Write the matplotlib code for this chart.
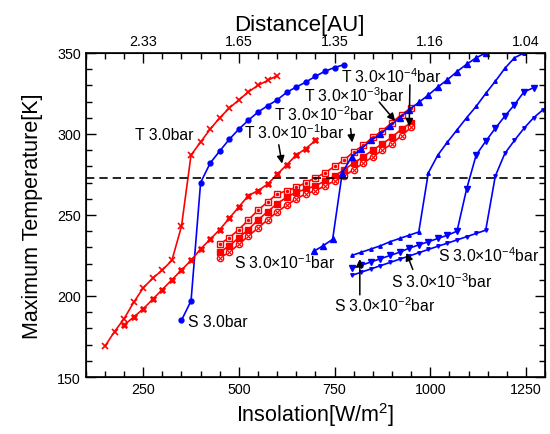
import numpy as np
import matplotlib
matplotlib.use("Agg")
import matplotlib.pyplot as plt
from matplotlib.ticker import MultipleLocator

plt.rcParams['font.family'] = ['Liberation Sans', 'DejaVu Sans']
plt.rcParams['mathtext.default'] = 'regular'

# --- data ---
x_t30 = [150, 175, 200, 225, 250, 275, 300, 325, 350, 375, 400, 425, 450, 475, 500, 525, 550, 575, 600]
y_t30 = [169, 178, 186, 196, 205, 211, 216, 222, 243, 287, 295, 303, 310, 316, 321, 326, 330, 333, 336]

x_s30 = [350, 375, 400, 425, 450, 475, 500, 525, 550, 575, 600, 625, 650, 675, 700, 725, 750, 775]
y_s30 = [185, 197, 270, 282, 289.5, 296.7, 303, 308.5, 313.5, 317.4, 321, 325.7, 329, 332, 335.6, 338.7, 341, 342.8]

x_t1 = [200, 225, 250, 275, 300, 325, 350, 375, 400, 425, 450, 475, 500, 525, 550, 575, 600, 625, 650, 675, 700]
y_t1 = [182, 187, 192, 198, 204, 210, 216, 222, 229, 235, 241, 248, 255, 262, 265, 269, 275, 281, 287, 291, 296]

x_t234 = [450, 475, 500, 525, 550, 575, 600, 625, 650, 675, 700, 725, 750, 775, 800, 825, 850, 875, 900, 925, 950]
y_t2 = [232, 236, 241, 247, 253, 258, 263, 265, 267, 270, 273, 276, 280, 284, 289, 293, 298, 302, 307, 312, 316]
y_t3 = [227, 231, 236, 241, 247, 252, 257, 261, 264, 266, 268, 271, 274, 278, 282, 286, 290, 294, 298, 303, 307]
y_t4 = [223.5, 227, 232, 237, 242, 247, 252, 256, 260, 263, 265, 268, 271, 274, 278, 282, 286, 290, 294, 299, 304]

x_s1 = [695, 720, 745, 770, 795, 820, 845, 870, 895, 920, 945, 970, 995, 1020, 1045, 1070, 1095, 1120, 1145]
y_s1 = [227.5, 231, 235, 276, 286, 291, 296, 300, 305, 310, 315, 319.5, 324, 329, 333.5, 338.5, 343, 347, 350]

x_s2 = [795, 820, 845, 870, 895, 920, 945, 970, 995, 1020, 1045, 1070, 1095, 1120, 1145, 1170, 1195, 1220, 1245]
y_s2 = [225, 227, 229, 231, 233.5, 235.5, 237.5, 239.5, 276, 287, 295, 302.5, 310, 317, 325, 332.5, 340.5, 347, 350]

x_s3 = [795, 820, 845, 870, 895, 920, 945, 970, 995, 1020, 1045, 1070, 1095, 1120, 1145, 1170, 1195, 1220, 1245, 1270]
y_s3 = [217, 219, 221, 223, 225, 227, 229.5, 231.5, 233.5, 235.5, 237.5, 240, 266, 287, 295.5, 303.5, 311, 318, 326, 328.5]

x_s4 = [795, 820, 845, 870, 895, 920, 945, 970, 995, 1020, 1045, 1070, 1095, 1120, 1145, 1170, 1195, 1220, 1245, 1270, 1295, 1320]
y_s4 = [212.7, 214.7, 216.7, 218.7, 220.7, 222.7, 224.7, 226.7, 228.7, 230.7, 232.6, 234.6, 236.6, 238.6, 240.6,
        274, 288, 296, 303.5, 310, 315, 319]

t_freeze = 273
top_ticks = [250, 500, 750, 1000, 1250]
top_labels = ['2.33', '1.65', '1.35', '1.16', '1.04']

RED = '#ff0000'
BLUE = '#0000ff'

fig = plt.figure(figsize=(5.5, 4.35), dpi=100)
ax = fig.add_axes([0.156, 0.131, 0.835, 0.745])

lw = 1.2
ax.plot(x_t30, y_t30, color=RED, lw=lw, marker='x', ms=4.5, mew=1.2)
ax.plot(x_s30, y_s30, color=BLUE, lw=lw, marker='o', ms=3.5)
ax.plot(x_t1, y_t1, color=RED, lw=lw, marker='X', ms=4.5, mec=RED, mew=0.5)
ax.plot(x_t234, y_t2, color=RED, lw=lw, marker='s', ms=4.5, mfc='white', mew=1)
ax.plot(x_t234, y_t2, color=RED, lw=0, marker='.', ms=3)
ax.plot(x_t234, y_t3, color=RED, lw=lw, marker='s', ms=4.5)
ax.plot(x_t234, y_t4, color=RED, lw=lw, marker='o', ms=4.5, mfc='white', mew=1)
ax.plot(x_t234, y_t4, color=RED, lw=0, marker='x', ms=2.5, mew=0.8)
ax.plot(x_s1, y_s1, color=BLUE, lw=lw, marker='^', ms=5)
ax.plot(x_s2, y_s2, color=BLUE, lw=lw, marker='^', ms=2.5)
ax.plot(x_s3, y_s3, color=BLUE, lw=lw, marker='v', ms=5)
ax.plot(x_s4, y_s4, color=BLUE, lw=lw, marker='v', ms=2.5)

ax.axhline(t_freeze, color='black', lw=1.2, ls=(0, (5, 3)))

ax.set_xlim(100, 1300)
ax.set_ylim(150, 350)
ax.xaxis.set_major_locator(MultipleLocator(250))
ax.xaxis.set_minor_locator(MultipleLocator(50))
ax.yaxis.set_major_locator(MultipleLocator(50))
ax.yaxis.set_minor_locator(MultipleLocator(10))
ax.tick_params(which='both', direction='in', right=True, labelsize=10.3, width=1)
ax.tick_params(which='major', length=7)
ax.tick_params(which='minor', length=4)
for s in ax.spines.values():
    s.set_linewidth(1.2)

ax.set_xlabel('Insolation[W/m$^2$]', fontsize=15.5, labelpad=3)
ax.set_ylabel('Maximum Temperature[K]', fontsize=15.5, labelpad=10)

ax2 = ax.twiny()
ax2.set_xlim(ax.get_xlim())
ax2.set_xticks(top_ticks)
ax2.set_xticklabels(top_labels)
ax2.xaxis.set_minor_locator(MultipleLocator(50))
ax2.tick_params(which='both', direction='in', labelsize=10.3, width=1)
ax2.tick_params(which='major', length=7)
ax2.tick_params(which='minor', length=4)
ax2.set_xlabel('Distance[AU]', fontsize=16, labelpad=3, x=0.465)

# --- labels ---
fs = 11.3
arr = dict(arrowstyle='-|>', color='black', lw=1.1, mutation_scale=11)
ax.text(306, 299.4, 'T 3.0bar', fontsize=fs, ha='center', va='center')
ax.text(366, 184, 'S 3.0bar', fontsize=fs, ha='left', va='center')
ax.text(645, 301.7, 'T 3.0×10$^{-1}$bar', fontsize=fs, ha='center', va='center')
ax.annotate('', xy=(614, 280), xytext=(603, 295), arrowprops=arr)
ax.text(723, 312.8, 'T 3.0×10$^{-2}$bar', fontsize=fs, ha='center', va='center')
ax.annotate('', xy=(797, 293), xytext=(791, 305), arrowprops=arr)
ax.text(801, 324, 'T 3.0×10$^{-3}$bar', fontsize=fs, ha='center', va='center')
ax.annotate('', xy=(913, 306.7), xytext=(862, 321), arrowprops=arr)
ax.text(897, 335.8, 'T 3.0×10$^{-4}$bar', fontsize=fs, ha='center', va='center')
ax.annotate('', xy=(945, 303), xytext=(947, 332), arrowprops=arr)

ax.text(620, 221.4, 'S 3.0×10$^{-1}$bar', fontsize=fs, ha='center', va='center')
ax.text(881, 194.6, 'S 3.0×10$^{-2}$bar', fontsize=fs, ha='center', va='center')
ax.annotate('', xy=(816, 224.5), xytext=(816, 199), arrowprops=arr)
ax.text(1030, 209.6, 'S 3.0×10$^{-3}$bar', fontsize=fs, ha='center', va='center')
ax.annotate('', xy=(935, 228.2), xytext=(957, 214.8), arrowprops=arr)
ax.text(1153, 225.5, 'S 3.0×10$^{-4}$bar', fontsize=fs, ha='center', va='center')

fig.savefig('out.png', dpi=100)
